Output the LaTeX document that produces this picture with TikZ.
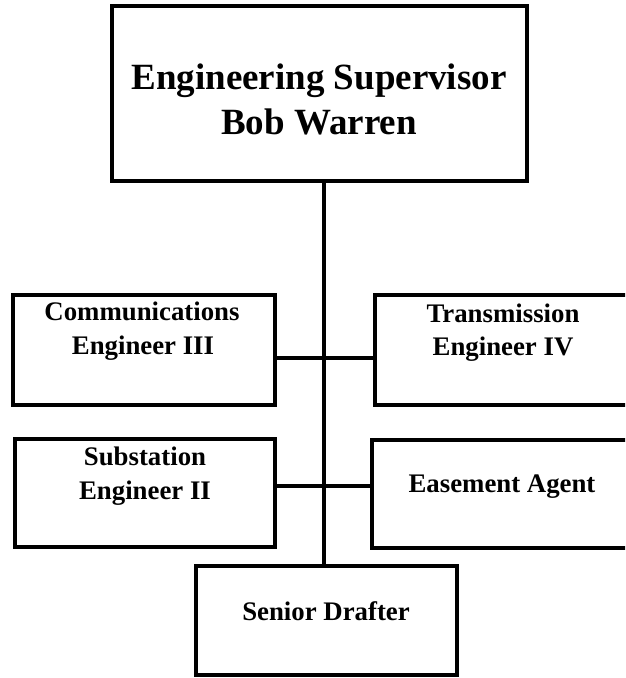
\documentclass[tikz,border=0pt]{standalone}
\usepackage{fontspec}
\setmainfont{Liberation Serif}
\begin{document}
\begin{tikzpicture}[x=1pt,y=-1pt,
  box/.style={draw=black,line width=4pt,rectangle,inner sep=0pt,outer sep=0pt},
  big/.style={anchor=base,inner sep=0pt,font=\fontsize{37}{44}\selectfont\bfseries},
  small/.style={anchor=base,inner sep=0pt,font=\fontsize{26.8}{32}\selectfont\bfseries},
  conn/.style={line width=4pt}]
\useasboundingbox (0,0) rectangle (625,678);
\begin{scope}
\clip (0,0) rectangle (625,678);
% boxes
\node[box,minimum width=415pt,minimum height=175pt] (top) at (319.5,93.5) {};
\node[box,minimum width=262pt,minimum height=110pt] (comms) at (144,350) {};
\node[box,minimum width=262pt,minimum height=110pt] (trans) at (506,350) {};
\node[box,minimum width=260pt,minimum height=108pt] (subst) at (145,493) {};
\node[box,minimum width=262pt,minimum height=108pt] (ease) at (503,494) {};
\node[box,minimum width=261pt,minimum height=109pt] (draft) at (326.5,620.5) {};
% junctions
\coordinate (jA) at (324,358);
\coordinate (jB) at (324,486);
% connectors
\draw[conn] (top.south -| jA) -- (draft.north -| jA);
\draw[conn] (comms.east |- jA) -- (trans.west |- jA);
\draw[conn] (subst.east |- jB) -- (ease.west |- jB);
\end{scope}
% texts
\node[big] (t1) at (319,89) {Engineering Supervisor};
\node[big] (t2) at (319,134) {Bob Warren};
\node[small] (c1) at (142,320) {Communications};
\node[small] (c2) at (143,354) {Engineer III};
\node[small] (r1) at (503,322) {Transmission};
\node[small] (r2) at (503,355) {Engineer IV};
\node[small] (s1) at (145,465) {Substation};
\node[small] (s2) at (145,499) {Engineer II};
\node[small] (e1) at (502,492) {Easement Agent};
\node[small] (d1) at (326,620) {Senior Drafter};
\end{tikzpicture}
\end{document}
